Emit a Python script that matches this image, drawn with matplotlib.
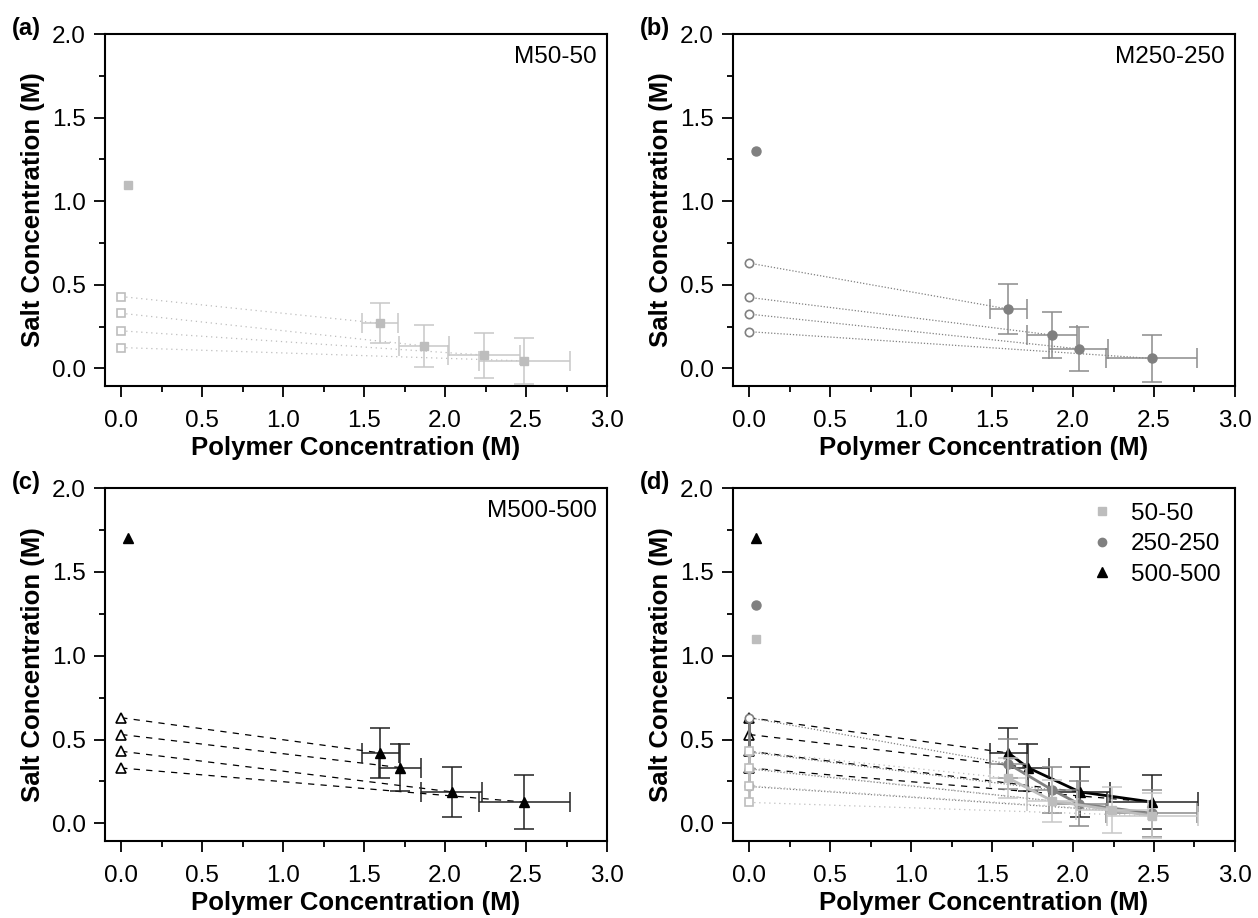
import matplotlib
matplotlib.use("Agg")
import matplotlib.pyplot as plt
from matplotlib.lines import Line2D
from matplotlib.ticker import MultipleLocator

plt.rcParams['font.family'] = ['Liberation Sans', 'DejaVu Sans']

# datos
x_alto = 0.04

# M50-50
m50_alto = 1.10
m50_abiertos = [0.43, 0.33, 0.225, 0.125]
m50_x = [1.60, 1.87, 2.24, 2.49]
m50_y = [0.27, 0.135, 0.08, 0.045]
m50_xerr = [0.11, 0.155, 0.22, 0.28]
m50_yerr = [0.12, 0.125, 0.135, 0.135]

# M250-250
m250_alto = 1.30
m250_abiertos = [0.63, 0.425, 0.325, 0.22]
m250_x = [1.60, 1.87, 2.035, 2.485]
m250_y = [0.355, 0.20, 0.117, 0.06]
m250_xerr = [0.113, 0.156, 0.182, 0.28]
m250_yerr = [0.15, 0.138, 0.133, 0.14]

# M500-500
m500_alto = 1.70
m500_abiertos = [0.63, 0.53, 0.43, 0.33]
m500_x = [1.60, 1.72, 2.04, 2.49]
m500_y = [0.42, 0.333, 0.188, 0.127]
m500_xerr = [0.113, 0.13, 0.186, 0.28]
m500_yerr = [0.15, 0.14, 0.15, 0.16]

series = {
    '50-50': dict(alto=m50_alto, abiertos=m50_abiertos, x=m50_x, y=m50_y, xerr=m50_xerr, yerr=m50_yerr,
                  marker='s', color='#bdbdbd', ecolor='#c8c8c8', ls=(0, (1, 3)), ms=6, tag='M50-50'),
    '250-250': dict(alto=m250_alto, abiertos=m250_abiertos, x=m250_x, y=m250_y, xerr=m250_xerr, yerr=m250_yerr,
                    marker='o', color='#808080', ecolor='#8c8c8c', ls=(0, (1, 1.5)), ms=6.5, tag='M250-250'),
    '500-500': dict(alto=m500_alto, abiertos=m500_abiertos, x=m500_x, y=m500_y, xerr=m500_xerr, yerr=m500_yerr,
                    marker='^', color='black', ecolor='#222222', ls=(0, (5, 5)), ms=7.5, tag='M500-500'),
}


def estilo_ejes(ax, letra):
    ax.set_xlim(-0.1, 3.0)
    ax.set_ylim(-0.105, 2.0)
    ax.xaxis.set_major_locator(MultipleLocator(0.5))
    ax.xaxis.set_minor_locator(MultipleLocator(0.25))
    ax.yaxis.set_major_locator(MultipleLocator(0.5))
    ax.yaxis.set_minor_locator(MultipleLocator(0.25))
    ax.tick_params(which='major', direction='out', length=8, width=1.3, labelsize=17.5, pad=6)
    ax.tick_params(which='minor', direction='out', length=4.5, width=1.3)
    ax.tick_params(axis='x', which='major', pad=9)
    for s in ax.spines.values():
        s.set_linewidth(1.5)
    ax.set_xlabel('Polymer Concentration (M)', fontsize=18.5, fontweight='bold', labelpad=3)
    ax.set_ylabel('Salt Concentration (M)', fontsize=18.5, fontweight='bold', labelpad=5)
    pos = ax.get_position()
    ax.figure.text(pos.x0 - 0.074, pos.y1 + 0.006, letra, fontsize=17, fontweight='bold', ha='left', va='center')


def dibujar_serie(ax, d, lineas=False, z=2):
    # lineas de union (tie lines)
    for y0, xi, yi in zip(d['abiertos'], d['x'], d['y']):
        ax.plot([0, xi], [y0, yi], color=d['color'], lw=0.9, linestyle=d['ls'], zorder=z)
    if lineas:
        ax.plot([0] * len(d['abiertos']), d['abiertos'], color=d['color'], lw=2, zorder=z + 0.1)
        ax.plot(d['x'], d['y'], color=d['color'], lw=2, zorder=z + 0.1)
    ax.errorbar(d['x'], d['y'], xerr=d['xerr'], yerr=d['yerr'], fmt='none', ecolor=d['ecolor'],
                elinewidth=1.1, capsize=7.5, capthick=1.1, zorder=z + 0.2)
    ax.plot(d['x'], d['y'], linestyle='none', marker=d['marker'], ms=d['ms'], color=d['color'], zorder=z + 0.3)
    ax.plot([0] * len(d['abiertos']), d['abiertos'], linestyle='none', marker=d['marker'], ms=d['ms'] - 0.5,
            mfc='white', mec=d['color'], mew=1.2, zorder=z + 0.4)
    ax.plot([x_alto], [d['alto']], linestyle='none', marker=d['marker'], ms=d['ms'], color=d['color'], zorder=z + 0.3)


fig = plt.figure(figsize=(12.58, 9.18), dpi=100)
posiciones = [
    [0.0835, 0.5795, 0.399, 0.3834],
    [0.5827, 0.5795, 0.399, 0.3834],
    [0.0835, 0.0839, 0.399, 0.3845],
    [0.5827, 0.0839, 0.399, 0.3845],
]
letras = ['(a)', '(b)', '(c)', '(d)']
ejes = [fig.add_axes(p) for p in posiciones]

for ax, nombre in zip(ejes[:3], series):
    d = series[nombre]
    dibujar_serie(ax, d)
    ax.text(0.98, 0.935, d['tag'], transform=ax.transAxes, ha='right', va='center', fontsize=17.5)

ax = ejes[3]
for i, nombre in enumerate(['500-500', '250-250', '50-50']):
    dibujar_serie(ax, series[nombre], lineas=True, z=2 + i)

manijas = [Line2D([], [], linestyle='none', marker=series[n]['marker'], ms=series[n]['ms'] - 0.5,
                  color=series[n]['color'], label=n) for n in series]
ax.legend(handles=manijas, loc='upper right', frameon=False, fontsize=17.5, handletextpad=0.6,
          labelspacing=0.35, borderaxespad=0.2, handlelength=1.2)

for ax, letra in zip(ejes, letras):
    estilo_ejes(ax, letra)

fig.savefig('out.png', dpi=100)
